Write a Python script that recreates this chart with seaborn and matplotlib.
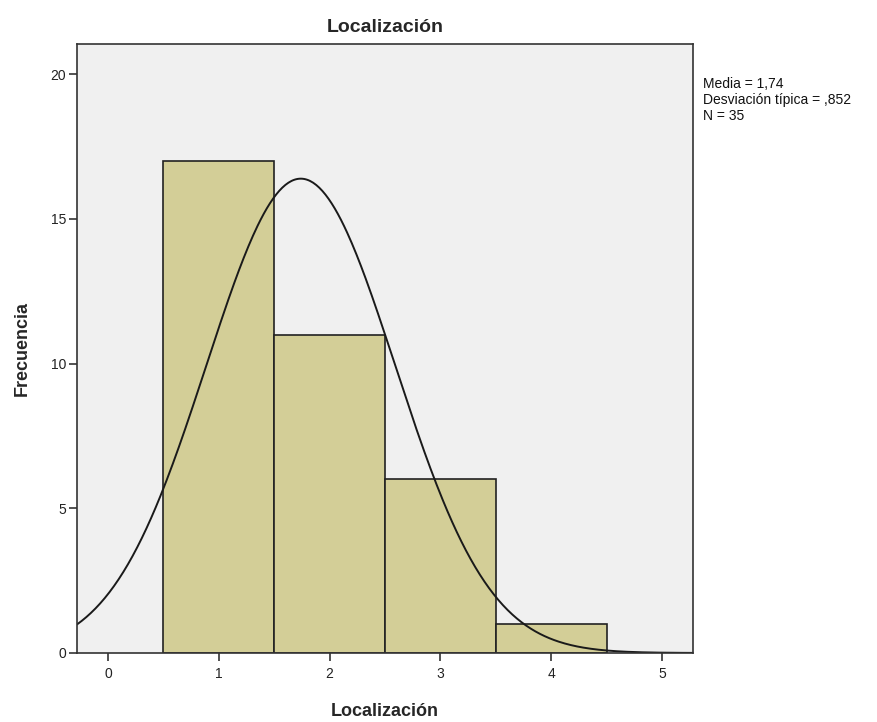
import numpy as np
import pandas as pd
import matplotlib
matplotlib.use("Agg")
import matplotlib.pyplot as plt
import seaborn as sns

# ============================================================
# DATA
# ============================================================

localizacion = [1, 2, 3, 4]
frecuencia = [17, 11, 6, 1]

media = 1.74
desv_tipica = 0.852
n_total = 35

df = pd.DataFrame({"Localización": localizacion, "Frecuencia": frecuencia})

# ============================================================
# PLOT
# ============================================================

sns.set_style("white")
plt.rcParams["font.family"] = ["Liberation Sans", "DejaVu Sans"]

fig = plt.figure(figsize=(8.78, 7.22), dpi=100)
ax = fig.add_axes([0.0877, 0.0956, 0.7015, 0.8434])
ax.set_facecolor("#f0f0f0")

sns.histplot(
    data=df,
    x="Localización",
    weights="Frecuencia",
    discrete=True,
    color="#d3ce97",
    edgecolor="#222222",
    linewidth=1.2,
    alpha=1,
    ax=ax
)

# normal curve
xs = np.linspace(-0.28, 5.28, 400)
ys = n_total / (desv_tipica * np.sqrt(2 * np.pi)) * np.exp(-0.5 * ((xs - media) / desv_tipica) ** 2)
sns.lineplot(x=xs, y=ys, color="#1a1a1a", linewidth=1.4, ax=ax)

ax.set_xlim(-0.28, 5.28)
ax.set_ylim(0, 21.04)
ax.set_xticks([0, 1, 2, 3, 4, 5])
ax.set_yticks([0, 5, 10, 15, 20])

for s in ax.spines.values():
    s.set_color("#333333")
    s.set_linewidth(1.2)
    s.set_visible(True)

ax.tick_params(axis="both", direction="out", length=6, width=1.2,
               bottom=True, left=True,
               color="#333333", labelsize=10, labelcolor="#222222")
ax.tick_params(axis="x", pad=4)
ax.tick_params(axis="y", pad=2)

ax.set_title("Localización", fontsize=14, fontweight="bold", pad=9)
ax.set_xlabel("Localización", fontsize=13, fontweight="bold", labelpad=16)
ax.set_ylabel("Frecuencia", fontsize=13, fontweight="bold", labelpad=14)

fig.text(0.8007, 0.894,
         f"Media = 1,74\nDesviación típica = ,852\nN = {n_total}",
         fontsize=10, va="top", ha="left", linespacing=1.2, color="#111111")

plt.savefig("out.png", dpi=100)
